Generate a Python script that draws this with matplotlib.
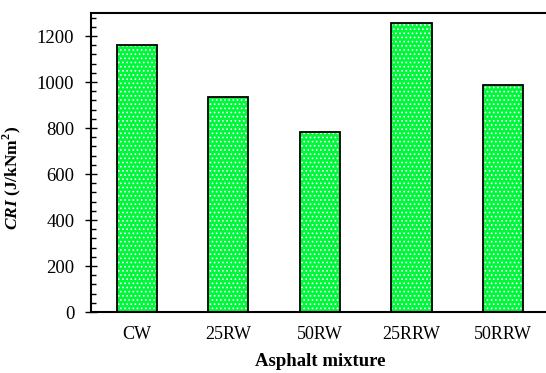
import matplotlib
matplotlib.use('Agg')
import matplotlib.pyplot as plt
from matplotlib.ticker import MultipleLocator, AutoMinorLocator
import numpy as np

plt.rcParams['font.family'] = 'Liberation Serif'
plt.rcParams['mathtext.fontset'] = 'custom'
plt.rcParams['mathtext.rm'] = 'Liberation Serif:bold'
plt.rcParams['mathtext.bf'] = 'Liberation Serif:bold'
plt.rcParams['mathtext.bfit'] = 'Liberation Serif:bold:italic'
plt.rcParams['hatch.linewidth'] = 0.7

mixtures = ['CW', '25RW', '50RW', '25RRW', '50RRW']
cri = [1160, 933, 784, 1255, 988]

fig = plt.figure(figsize=(5.46, 3.73), dpi=100)
ax = fig.add_axes([0.1667, 0.1635, 0.8383, 0.8015])

x = np.arange(len(mixtures))
# green fill with white dot pattern, then a black outline on top
ax.bar(x, cri, width=0.44, color='#00f83a', edgecolor='white', hatch='....', linewidth=0)
ax.bar(x, cri, width=0.44, fill=False, edgecolor='black', linewidth=1.3)

ax.set_xlim(-0.5, 4.5)
ax.set_ylim(0, 1300)
ax.set_xticks(x)
ax.set_xticklabels(mixtures, fontsize=13)
ax.yaxis.set_major_locator(MultipleLocator(200))
ax.yaxis.set_minor_locator(AutoMinorLocator(5))
ax.tick_params(axis='x', length=0, pad=10)
ax.tick_params(axis='y', which='major', direction='inout', length=8, width=1, labelsize=13.5, pad=8)
ax.tick_params(axis='y', which='minor', direction='in', length=3.5, width=1)

for s in ax.spines.values():
    s.set_linewidth(1.5)

ax.set_xlabel('Asphalt mixture', fontsize=13.5, fontweight='bold', labelpad=7)
ax.set_ylabel(r'$\mathbfit{CRI}$ (J/kNm$^\mathbf{2}$)', fontsize=12.5, fontweight='bold')
ax.yaxis.set_label_coords(-0.148, 0.448)

fig.savefig('out.png', dpi=100)
